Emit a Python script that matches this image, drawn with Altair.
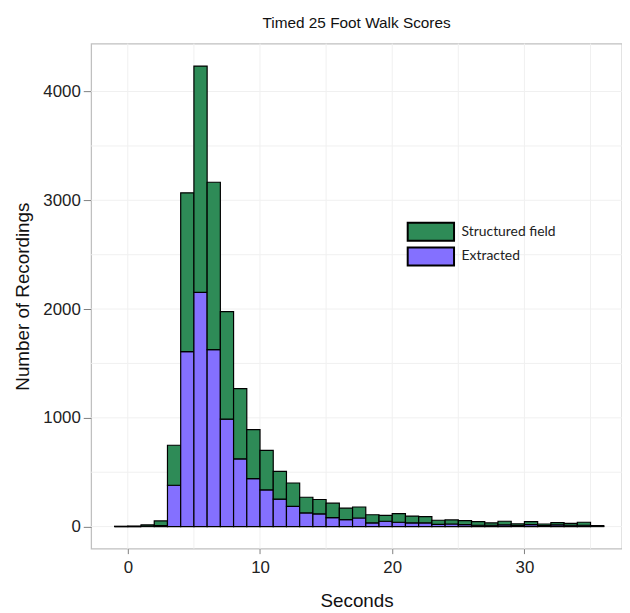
import altair as alt
import pandas as pd

# bin left edges (seconds), bin width 1
bin_starts = list(range(-1, 36))
extracted = [0, 0, 3, 8, 380, 1609, 2153, 1627, 988, 623, 441, 338, 252, 185, 126, 117,
             82, 64, 79, 34, 49, 40, 34, 34, 21, 24, 18, 12, 12, 15, 9, 18, 9, 15, 12, 12, 3]
structured = [3, 5, 12, 44, 368, 1460, 2081, 1539, 989, 645, 450, 362, 256, 216, 144, 132,
              133, 106, 101, 75, 54, 79, 63, 57, 37, 37, 37, 34, 22, 34, 16, 28, 15, 21, 18, 28, 6]
series = ["Structured field", "Extracted"]
colors = ["#2E8B57", "#8470FF"]
x_ticks = [0, 10, 20, 30]
y_ticks = [0, 1000, 2000, 3000, 4000]
x_grid = [0, 5, 10, 15, 20, 25, 30, 35]
y_grid = [0, 500, 1000, 1500, 2000, 2500, 3000, 3500, 4000]

rows = []
for s, e, st in zip(bin_starts, extracted, structured):
    rows.append({"start": s, "end": s + 1, "lo": 0, "hi": e, "type": "Extracted"})
    rows.append({"start": s, "end": s + 1, "lo": e, "hi": e + st, "type": "Structured field"})
df = pd.DataFrame(rows)

xdom = [-2.77, 37.38]
ydom = [-203, 4441]
FONT = "Liberation Sans"

xs = alt.Scale(domain=xdom, nice=False, zero=False)
ys = alt.Scale(domain=ydom, nice=False, zero=False)

x_axis = alt.Axis(values=x_ticks, title="Seconds", grid=False, domain=False, format="d",
                  tickColor="#7f7f7f", tickSize=5, labelPadding=6,
                  labelFontSize=17, labelColor="#222222", labelFont=FONT,
                  titleFontSize=19, titleFont=FONT, titleFontWeight="normal",
                  titleColor="#111111", titlePadding=16)
y_axis = alt.Axis(values=y_ticks, title="Number of Recordings", grid=False, domain=False, format="d",
                  tickColor="#7f7f7f", tickSize=8, labelPadding=3,
                  labelFontSize=17, labelColor="#222222", labelFont=FONT,
                  titleFontSize=19, titleFont=FONT, titleFontWeight="normal",
                  titleColor="#111111", titlePadding=10)

gx = alt.Chart(pd.DataFrame({"v": x_grid})).mark_rule(color="#f0f0f0", strokeWidth=1).encode(
    x=alt.X("v:Q", scale=xs, axis=x_axis))
gy = alt.Chart(pd.DataFrame({"v": y_grid})).mark_rule(color="#f0f0f0", strokeWidth=1).encode(
    y=alt.Y("v:Q", scale=ys, axis=y_axis))

bars = alt.Chart(df).mark_rect(stroke="black", strokeWidth=1.2, opacity=1).encode(
    x=alt.X("start:Q", scale=xs, axis=x_axis),
    x2="end:Q",
    y=alt.Y("lo:Q", scale=ys, axis=y_axis),
    y2="hi:Q",
    color=alt.Color("type:N", scale=alt.Scale(domain=series, range=colors),
                    legend=alt.Legend(title=None, orient="none", legendX=333, legendY=180,
                                      symbolType="M-2.6,-1L2.6,-1L2.6,1L-2.6,1Z",
                                      symbolSize=324, symbolStrokeColor="black",
                                      symbolStrokeWidth=2, symbolOpacity=1,
                                      labelFont="Lato", labelFontSize=14, labelColor="#222222",
                                      labelOffset=21, rowPadding=-1, padding=0)),
)

chart = alt.layer(gx, gy, bars).properties(
    width=536, height=510,
    title=alt.Title("Timed 25 Foot Walk Scores", font=FONT, fontSize=15.5, fontWeight="normal",
                    color="#111111", offset=12),
    autosize="none",
    padding={"left": 84, "top": 33, "right": 0, "bottom": 60},
).configure_view(stroke="#c0c0c0", strokeWidth=1.3)

chart.save("out.html", embed_options={"renderer": "svg", "actions": False})
